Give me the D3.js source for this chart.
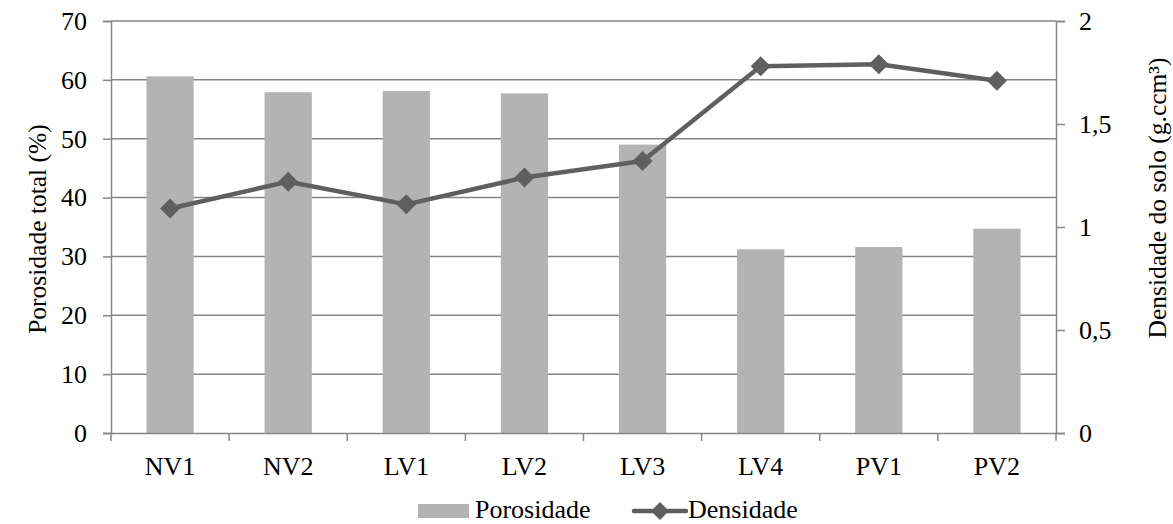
<!DOCTYPE html>
<html>
<head>
<meta charset="utf-8">
<script src="https://cdn.jsdelivr.net/npm/d3@7"></script>
<style>
  html, body { margin: 0; padding: 0; background: #fff; }
  svg { display: block; }
</style>
</head>
<body>
<svg id="chart" width="1173" height="524"></svg>
<script>
// Soil profiles
const categories = ["NV1", "NV2", "LV1", "LV2", "LV3", "LV4", "PV1", "PV2"];
// Total porosity (%)
const porosidade = [60.6, 57.9, 58.1, 57.7, 49.0, 31.2, 31.6, 34.7];
// Soil bulk density (g.ccm³)
const densidade = [1.09, 1.22, 1.11, 1.24, 1.32, 1.78, 1.79, 1.71];
// Axis ticks
const leftTicks = [0, 10, 20, 30, 40, 50, 60, 70];
const rightTicks = [0, 0.5, 1, 1.5, 2];

const FONT = "Liberation Serif";
const FS = 26;

const svg = d3.select("#chart");
const m = { left: 111, right: 1056, top: 21, bottom: 433 };

const x = d3.scaleBand().domain(categories).range([m.left, m.right]).paddingInner(0.6).paddingOuter(0.3);
const xb = d3.scaleBand().domain(categories).range([m.left, m.right]);
const yL = d3.scaleLinear().domain([0, 70]).range([m.bottom, m.top]);
const yR = d3.scaleLinear().domain([0, 2]).range([m.bottom, m.top]);

const gridColor = "#868686";
const lineColor = "#5f5f5f";
const fmt = d => String(d).replace(".", ",");

// Horizontal gridlines
svg.append("g").selectAll("line").data(leftTicks.filter(d => d > 0)).join("line")
  .attr("x1", m.left).attr("x2", m.right)
  .attr("y1", d => yL(d)).attr("y2", d => yL(d))
  .attr("stroke", gridColor).attr("stroke-width", 1.5);

// Bars
svg.append("g").selectAll("rect").data(categories).join("rect")
  .attr("x", d => x(d))
  .attr("width", x.bandwidth())
  .attr("y", (d, i) => yL(porosidade[i]))
  .attr("height", (d, i) => yL(0) - yL(porosidade[i]))
  .attr("fill", "#b3b3b3");

// Left axis
const axL = svg.append("g").attr("transform", `translate(${m.left},0)`)
  .call(d3.axisLeft(yL).tickValues(leftTicks).tickSize(8).tickPadding(16));
// Right axis
const axR = svg.append("g").attr("transform", `translate(${m.right},0)`)
  .call(d3.axisRight(yR).tickValues(rightTicks).tickSize(9).tickPadding(14).tickFormat(fmt));
// Bottom axis, ticks placed on the band boundaries
const axB = svg.append("g").attr("transform", `translate(0,${m.bottom})`)
  .call(d3.axisBottom(x).tickSize(0).tickPadding(24));
axB.append("g").selectAll("line").data(categories.concat(["end"])).join("line")
  .attr("x1", (d, i) => i < categories.length ? xb(d) : m.right)
  .attr("x2", (d, i) => i < categories.length ? xb(d) : m.right)
  .attr("y1", 0).attr("y2", 8)
  .attr("stroke", gridColor).attr("stroke-width", 1.5);

[axL, axR, axB].forEach(g => {
  g.attr("font-family", FONT).attr("font-size", FS);
  g.select(".domain").attr("stroke", gridColor).attr("stroke-width", 1.5);
  g.selectAll(".tick line").attr("stroke", gridColor).attr("stroke-width", 1.5);
  g.selectAll("text").style("font-family", FONT).style("font-size", FS + "px").attr("fill", "#000");
});
axB.selectAll(".tick text").attr("dy", "0.71em");

// Density line with diamond markers
const cx = i => xb(categories[i]) + xb.bandwidth() / 2;
const line = d3.line().x((d, i) => cx(i)).y(d => yR(d));
svg.append("path").datum(densidade)
  .attr("d", line).attr("fill", "none")
  .attr("stroke", lineColor).attr("stroke-width", 4.5).attr("stroke-linejoin", "round");

svg.append("g").selectAll("path").data(densidade).join("path")
  .attr("transform", (d, i) => `translate(${cx(i)},${yR(d)}) rotate(45)`)
  .attr("d", d3.symbol().type(d3.symbolSquare).size(200))
  .attr("fill", lineColor);

// Axis titles
svg.append("text")
  .attr("transform", `translate(46,229) rotate(-90)`)
  .attr("text-anchor", "middle").style("font-size", "25.5px").style("font-family", FONT)
  .text("Porosidade total (%)");
svg.append("text")
  .attr("transform", `translate(1166,198) rotate(-90)`)
  .attr("text-anchor", "middle").style("font-size", "25.5px").style("font-family", FONT)
  .text("Densidade do solo (g.ccm³)");

// Legend
const lg = svg.append("g");
lg.append("rect").attr("x", 418).attr("y", 504).attr("width", 51).attr("height", 14).attr("fill", "#b3b3b3");
lg.append("text").attr("x", 475).attr("y", 518).style("font-size", FS + "px").style("font-family", FONT).text("Porosidade");
lg.append("line").attr("x1", 634).attr("x2", 686).attr("y1", 511).attr("y2", 511)
  .attr("stroke", lineColor).attr("stroke-width", 4.5).attr("stroke-linecap", "round");
lg.append("path").attr("transform", "translate(660,511) rotate(45)")
  .attr("d", d3.symbol().type(d3.symbolSquare).size(160)).attr("fill", lineColor);
lg.append("text").attr("x", 688).attr("y", 518).style("font-size", FS + "px").style("font-family", FONT).text("Densidade");
</script>
</body>
</html>
